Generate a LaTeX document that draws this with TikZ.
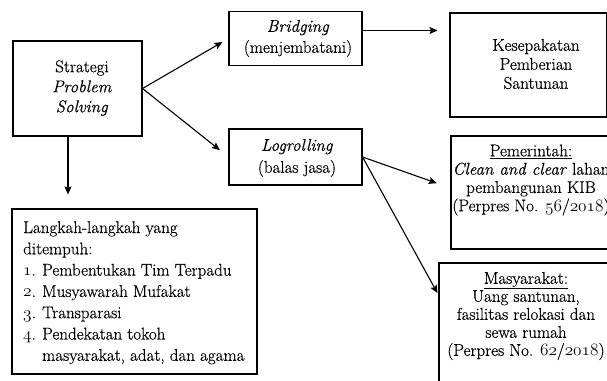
\documentclass[tikz,border=0pt]{standalone}
\usepackage{fontspec}
\setmainfont{Latin Modern Roman}[FakeBold=0.5]
\newcommand{\osnum}[1]{{\usefont{OML}{cmm}{m}{it}#1}}
\usetikzlibrary{arrows.meta,calc}
\begin{document}
\begin{tikzpicture}[x=1pt,y=-1pt,
  box/.style={draw,line width=1.1pt,rectangle,inner sep=0pt},
  txt/.style={align=center,inner sep=0pt},
  arr/.style={line width=1.1pt,-{Stealth[length=8pt,width=7pt,inset=1.5pt]}}]
\useasboundingbox (0,0) rectangle (607,380);
\clip (0,0) rectangle (607,380);
% Strategi
\node[box,minimum width=129pt,minimum height=95pt] (strat) at (77.5,88.5) {};
\node[txt,font=\fontsize{17}{20}\selectfont] (stratT) at (82,88) {Strategi\\\textit{Problem}\\\textit{Solving}};
% Bridging
\node[box,minimum width=133pt,minimum height=54pt] (bridge) at (295.5,38.5) {};
\node[txt,font=\fontsize{17}{21}\selectfont] (bridgeT) at (298,38.5) {\textit{Bridging}\\(menjembatani)};
% Logrolling
\node[box,minimum width=133pt,minimum height=56pt] (logr) at (295.5,157) {};
\node[txt,font=\fontsize{17}{22}\selectfont] (logrT) at (297,158) {\textit{Logrolling}\\(balas jasa)};
% Kesepakatan
\node[box,minimum width=157pt,minimum height=104pt] (kesep) at (528.5,65) {};
\node[txt,font=\fontsize{17}{19}\selectfont] (kesepT) at (536,64) {Kesepakatan\\Pemberian\\Santunan};
% Pemerintah
\node[box,minimum width=160pt,minimum height=113pt] (pemer) at (531,192.5) {};
\node[txt,font=\fontsize{17}{18.3}\selectfont] (pemerT) at (531,180) {\underline{Pemerintah:}\\\textit{Clean and clear} lahan\\pembangunan KIB\\(Perpres No. \osnum{56}/\osnum{2018})};
% Masyarakat
\node[box,minimum width=174pt,minimum height=150pt] (masy) at (526,338) {};
\node[txt,font=\fontsize{17}{18}\selectfont] (masyT) at (526,316) {\underline{Masyarakat:}\\Uang santunan,\\fasilitas relokasi dan\\sewa rumah\\(Perpres No. \osnum{62}/\osnum{2018})};
% Langkah
\node[box,minimum width=245pt,minimum height=165pt] (langkah) at (134.5,291.5) {};
\node[txt,align=left,anchor=north west,font=\fontsize{17}{21.3}\selectfont] (langkahT) at (23,221) {Langkah-langkah yang\\ditempuh:\\
\makebox[19pt][l]{\osnum{1}.}Pembentukan Tim Terpadu\\
\makebox[19pt][l]{\osnum{2}.}Musyawarah Mufakat\\
\makebox[19pt][l]{\osnum{3}.}Transparasi\\
\makebox[19pt][l]{\osnum{4}.}Pendekatan tokoh\\
\makebox[19pt][l]{}masyarakat, adat, dan agama};
% arrows
\draw[arr,shorten >=7pt] (strat.east) -- (bridge.west);
\draw[arr,shorten >=11pt] (strat.east) -- (logr.west);
\draw[arr,shorten >=12pt] ([yshift=8pt]bridge.east) -- ([yshift=8pt]bridge.east -| kesep.west);
\draw[arr,shorten >=14.5pt] (logr.east) -- ([yshift=4.5pt]pemer.west);
\draw[arr,shorten >=2pt] (logr.east) -- ([yshift=-32.5pt]masy.north west);
\draw[arr,shorten >=14pt] ([xshift=-9.5pt]strat.south) -- ([xshift=-9.5pt]strat.south |- langkah.north);
\end{tikzpicture}
\end{document}
